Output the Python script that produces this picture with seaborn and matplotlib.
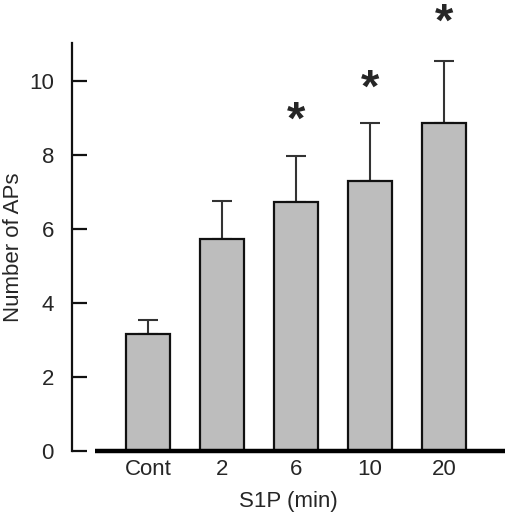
import numpy as np
import pandas as pd
import seaborn as sns
import matplotlib.pyplot as plt

# values
groups = ['Cont', '2', '6', '10', '20']
means = [3.16, 5.73, 6.73, 7.30, 8.86]
sems = [0.38, 1.03, 1.24, 1.56, 1.68]
signif = [False, False, True, True, True]
star_y = [None, None, 8.9, 9.77, 11.55]

df = pd.DataFrame({'S1P': groups, 'APs': means})

sns.set_style('white')
plt.rcParams['font.family'] = ['Liberation Sans', 'DejaVu Sans']
plt.rcParams['ytick.direction'] = 'in'

fig = plt.figure(figsize=(5.06, 5.14), dpi=100)
ax = fig.add_axes([72 / 506, 63 / 514, 433 / 506, 408 / 514])

sns.barplot(data=df, x='S1P', y='APs', color='#bdbdbd', width=0.6,
            edgecolor='#111111', linewidth=1.6, errorbar=None, ax=ax,
            saturation=1)

# upper error bars only
x = np.arange(len(groups))
ax.errorbar(x, means, yerr=[np.zeros(len(sems)), sems], fmt='none',
            ecolor='#333333', elinewidth=1.5, capsize=7.2, capthick=1.5,
            zorder=0)

for xi, sig, sy in zip(x, signif, star_y):
    if sig:
        ax.text(xi, sy, '*', ha='center', va='center', fontsize=34,
                fontweight='bold', clip_on=False)

ax.set_xlim(-1.027, 4.824)
ax.set_ylim(0, 11.03)
ax.set_yticks([0, 2, 4, 6, 8, 10])

# thick baseline, detached from the y axis
ax.plot([-0.716, 4.824], [0, 0], color='black', lw=3.2, clip_on=False,
        solid_capstyle='butt', zorder=5)

for s in ['top', 'right', 'bottom']:
    ax.spines[s].set_visible(False)
ax.spines['left'].set_linewidth(1.6)
ax.spines['left'].set_color('#111111')

ax.tick_params(axis='y', direction='in', length=10.5, width=1.6,
               color='#111111', labelsize=16, pad=13, left=True)
ax.tick_params(axis='x', length=0, labelsize=16, pad=6)

ax.set_xlabel('S1P (min)', fontsize=16, labelpad=8)
ax.set_ylabel('Number of APs', fontsize=16, labelpad=4)

fig.savefig('out.png', dpi=100)
